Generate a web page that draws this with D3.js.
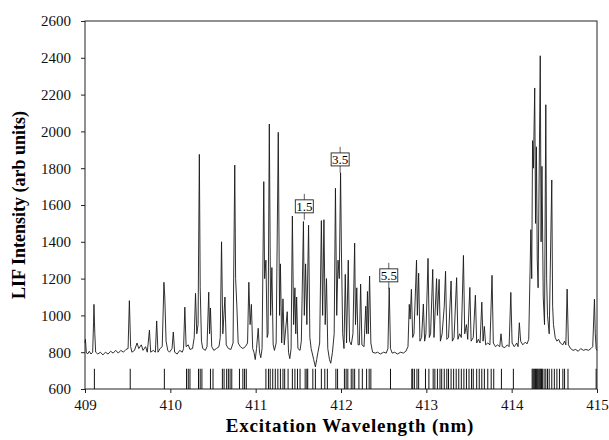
<!DOCTYPE html>
<html>
<head>
<meta charset="utf-8">
<script src="https://cdn.jsdelivr.net/npm/d3@7"></script>
<style>
  body { margin: 0; background: #fff; }
  .axis path, .axis line { stroke: #222; }
</style>
</head>
<body>
<div id="chart"></div>
<script>
// LIF trace: [wavelength nm, intensity]
const spectrum = [
  [409.00, 850], [409.005, 870], [409.015, 800], [409.03, 790], [409.05, 805], [409.07, 790], [409.09, 800],
  [409.10, 960], [409.105, 1060], [409.115, 900], [409.125, 800],
  [409.15, 790], [409.18, 800], [409.21, 785], [409.24, 800], [409.27, 790], [409.30, 805], [409.33, 795],
  [409.36, 810], [409.39, 795], [409.42, 810], [409.45, 800], [409.48, 815], [409.505, 820],
  [409.52, 1080], [409.535, 830], [409.55, 800], [409.58, 810], [409.61, 850], [409.63, 820], [409.66, 840],
  [409.68, 810], [409.71, 830], [409.73, 800],
  [409.755, 920], [409.77, 800], [409.80, 810], [409.825, 800], [409.84, 970], [409.855, 800], [409.88, 820], [409.905, 830],
  [409.925, 1180], [409.935, 1100], [409.95, 860], [409.97, 810], [409.99, 800], [410.02, 820], [410.035, 910],
  [410.05, 800], [410.08, 790], [410.11, 810], [410.14, 800], [410.155, 820],
  [410.17, 1045], [410.185, 830], [410.21, 840], [410.23, 815], [410.26, 820], [410.28, 880],
  [410.295, 1120], [410.31, 900], [410.325, 950], [410.34, 1875], [410.35, 1150], [410.365, 860], [410.38, 820],
  [410.41, 810], [410.43, 830],
  [410.45, 1126], [410.46, 900], [410.47, 1040], [410.485, 830], [410.51, 810], [410.54, 820], [410.57, 830], [410.585, 880],
  [410.60, 1400], [410.615, 900], [410.64, 1100], [410.655, 840], [410.68, 820], [410.71, 815], [410.735, 850],
  [410.755, 1817], [410.765, 1200], [410.78, 1045], [410.795, 850], [410.82, 830], [410.85, 820], [410.88, 830], [410.905, 850],
  [410.92, 1180], [410.935, 950], [410.95, 1060], [410.965, 820], [410.98, 800], [410.995, 760], [411.01, 820],
  [411.03, 930], [411.045, 800], [411.06, 770], [411.075, 820],
  [411.095, 1727], [411.105, 1200], [411.12, 1300], [411.135, 880], [411.145, 900],
  [411.16, 2040], [411.175, 1000], [411.19, 1260], [411.205, 840], [411.22, 810], [411.24, 850],
  [411.265, 1995], [411.28, 1000], [411.29, 1280], [411.305, 850], [411.32, 1090], [411.335, 840],
  [411.37, 1020], [411.385, 800], [411.40, 765], [411.415, 820],
  [411.43, 1540], [411.445, 950], [411.46, 1150], [411.47, 900], [411.48, 1100], [411.495, 820], [411.52, 810], [411.535, 860],
  [411.56, 1510], [411.57, 1000], [411.585, 1280], [411.60, 950], [411.62, 1490], [411.635, 880], [411.65, 820],
  [411.68, 760], [411.70, 720], [411.715, 760], [411.73, 800], [411.75, 850],
  [411.77, 1515], [411.785, 1000], [411.80, 1520], [411.815, 950], [411.83, 1200], [411.845, 820], [411.865, 760],
  [411.88, 740], [411.90, 800], [411.92, 900],
  [411.935, 1691], [411.95, 1000], [411.965, 1300], [411.98, 1200],
  [411.995, 1775], [412.005, 1350], [412.02, 900], [412.035, 820],
  [412.05, 1223], [412.065, 850], [412.085, 1300], [412.10, 860], [412.12, 840], [412.14, 900],
  [412.16, 1393], [412.17, 950], [412.185, 1150], [412.20, 840], [412.215, 840],
  [412.23, 1170], [412.245, 840], [412.27, 830], [412.29, 1050], [412.30, 900], [412.31, 1130], [412.32, 900],
  [412.335, 1214], [412.35, 850], [412.37, 800],
  [412.40, 795], [412.43, 800], [412.46, 790], [412.50, 800], [412.53, 795], [412.55, 820],
  [412.565, 1150], [412.58, 820], [412.60, 795], [412.63, 800], [412.66, 790], [412.70, 800], [412.73, 795],
  [412.76, 805], [412.785, 830],
  [412.80, 1060], [412.81, 980], [412.825, 1142], [412.84, 880], [412.855, 900],
  [412.885, 1300], [412.895, 1000], [412.91, 1230], [412.925, 860], [412.945, 880], [412.965, 1062], [412.98, 860], [412.995, 900],
  [413.02, 1310], [413.035, 880], [413.05, 900], [413.075, 1250], [413.09, 880],
  [413.12, 1200], [413.13, 1000], [413.15, 1196], [413.165, 860], [413.185, 900],
  [413.21, 1050], [413.225, 1240], [413.24, 870], [413.26, 880],
  [413.29, 1187], [413.305, 860], [413.325, 880],
  [413.355, 1205], [413.37, 870], [413.39, 900], [413.41, 880],
  [413.435, 1326], [413.45, 900], [413.47, 950], [413.485, 870],
  [413.51, 1152], [413.525, 860], [413.55, 880],
  [413.575, 1110], [413.59, 850], [413.61, 870], [413.63, 850],
  [413.65, 1072], [413.665, 860], [413.68, 940], [413.695, 840], [413.72, 850], [413.745, 840],
  [413.77, 1218], [413.785, 850], [413.81, 830], [413.835, 840], [413.86, 830], [413.875, 900], [413.89, 830],
  [413.92, 825], [413.95, 840], [413.97, 830],
  [413.99, 1125], [414.005, 850], [414.03, 830], [414.06, 850], [414.075, 830], [414.09, 960], [414.105, 860],
  [414.13, 840], [414.16, 855], [414.18, 845], [414.20, 870],
  [414.225, 1466], [414.235, 1200], [414.245, 1950], [414.255, 1800],
  [414.27, 2236], [414.28, 1500], [414.29, 1916], [414.30, 1300], [414.31, 1150],
  [414.335, 2411], [414.345, 1400], [414.355, 1810], [414.37, 1100], [414.385, 950],
  [414.40, 2145], [414.41, 1200], [414.42, 1000], [414.44, 900],
  [414.47, 1736], [414.48, 1050], [414.49, 950], [414.51, 880], [414.53, 860], [414.55, 870], [414.57, 850],
  [414.60, 840], [414.62, 860], [414.635, 840],
  [414.65, 1143], [414.665, 840], [414.69, 820], [414.72, 810], [414.75, 815], [414.78, 805], [414.81, 820],
  [414.84, 810], [414.87, 815], [414.90, 810], [414.93, 820], [414.95, 830],
  [414.97, 1088], [414.98, 900], [414.99, 820], [415.00, 810]
];

// calculated line positions (stick spectrum along the bottom)
const sticks = [
  409.11, 409.53, 409.93,
  410.19, 410.21, 410.23, 410.33, 410.35, 410.37, 410.47, 410.50,
  410.61, 410.63, 410.66, 410.68, 410.70, 410.72, 410.81, 410.85, 410.87, 410.89,
  411.12, 411.15, 411.17, 411.20, 411.23, 411.26, 411.29, 411.32, 411.34, 411.38,
  411.43, 411.46, 411.49, 411.52, 411.58, 411.60, 411.61, 411.67, 411.70, 411.77,
  411.81, 411.84, 411.94, 411.96, 412.04, 412.06, 412.08, 412.12, 412.14, 412.16,
  412.21, 412.25, 412.30, 412.33, 412.35, 412.58,
  412.83, 412.84, 412.86, 412.89, 412.91, 412.99, 413.03, 413.08, 413.10, 413.13,
  413.16, 413.18, 413.21, 413.24, 413.26, 413.29, 413.32, 413.35, 413.38, 413.41,
  413.44, 413.47, 413.50, 413.53, 413.55, 413.59, 413.62, 413.65, 413.68, 413.72,
  413.76, 413.79, 413.88, 414.02,
  414.24, 414.25, 414.26, 414.27, 414.28, 414.29, 414.30, 414.31, 414.32, 414.33,
  414.34, 414.35, 414.36, 414.38, 414.40, 414.42,
  414.44, 414.47, 414.50, 414.53, 414.56, 414.60, 414.62, 414.66, 414.99
];
const stickTop = 710;

// K assignments marked on the trace
const tagText = ["1.5", "3.5", "5.5"];
const tagWl = [411.57, 411.99, 412.56];
const tagLevel = [1590, 1845, 1215];

const xTicks = [409, 410, 411, 412, 413, 414, 415];
const yTicks = [600, 800, 1000, 1200, 1400, 1600, 1800, 2000, 2200, 2400, 2600];

const FONT = "'Liberation Serif', 'Times New Roman', 'DejaVu Serif', serif";
const W = 609, H = 440;
const margin = { top: 21, right: 12, bottom: 51, left: 85 };

const svg = d3.select("#chart").append("svg")
  .attr("width", W).attr("height", H);

const x = d3.scaleLinear().domain([409, 415]).range([margin.left, W - margin.right]);
const y = d3.scaleLinear().domain([600, 2600]).range([H - margin.bottom, margin.top]);

// frame
svg.append("rect")
  .attr("x", x(409)).attr("y", y(2600))
  .attr("width", x(415) - x(409)).attr("height", y(600) - y(2600))
  .attr("fill", "none").attr("stroke", "#222").attr("stroke-width", 1);

// sticks
svg.append("g").selectAll("line")
  .data(sticks)
  .enter().append("line")
  .attr("x1", d => x(d)).attr("x2", d => x(d))
  .attr("y1", y(600)).attr("y2", y(stickTop))
  .attr("stroke", "#111").attr("stroke-width", 1);

// trace
const line = d3.line().x(d => x(d[0])).y(d => y(d[1]));
svg.append("path")
  .datum(spectrum)
  .attr("d", line)
  .attr("fill", "none")
  .attr("stroke", "#1a1a1a")
  .attr("stroke-width", 0.9)
  .attr("stroke-linejoin", "round");

// axes
svg.append("g")
  .attr("class", "axis")
  .attr("transform", `translate(0,${y(600)})`)
  .call(d3.axisBottom(x).tickValues(xTicks).tickFormat(d3.format("d")).tickSize(4).tickPadding(6))
  .call(g => g.select(".domain").remove())
  .selectAll("text").style("font-family", FONT).style("font-size", "15px").attr("fill", "#111");

svg.append("g")
  .attr("class", "axis")
  .attr("transform", `translate(${x(409)},0)`)
  .call(d3.axisLeft(y).tickValues(yTicks).tickFormat(d3.format("d")).tickSize(4).tickPadding(10))
  .call(g => g.select(".domain").remove())
  .selectAll("text").style("font-family", FONT).style("font-size", "15px").attr("fill", "#111");

// tags
const tags = svg.append("g").selectAll("g")
  .data(tagText)
  .enter().append("g")
  .attr("transform", (d, i) => `translate(${x(tagWl[i])},${y(tagLevel[i])})`);

tags.append("line")
  .attr("x1", 0).attr("x2", 0).attr("y1", -13).attr("y2", 13)
  .attr("stroke", "#333").attr("stroke-width", 0.8);

tags.append("rect")
  .attr("x", -9).attr("y", -7).attr("width", 18).attr("height", 13)
  .attr("fill", "#fff").attr("stroke", "#222").attr("stroke-width", 0.9);

tags.append("text")
  .attr("y", 4)
  .attr("text-anchor", "middle")
  .style("font-family", FONT)
  .style("font-size", "13px")
  .text(d => d);

// axis titles
svg.append("text")
  .attr("x", 350).attr("y", 432)
  .attr("text-anchor", "middle")
  .style("font-family", FONT)
  .style("font-size", "19px").style("font-weight", "bold")
  .style("letter-spacing", "0.8px")
  .text("Excitation Wavelength (nm)");

svg.append("text")
  .attr("transform", "translate(25,205) rotate(-90)")
  .attr("text-anchor", "middle")
  .style("font-family", FONT)
  .style("font-size", "18px").style("font-weight", "bold")
  .text("LIF Intensity (arb units)");
</script>
</body>
</html>
